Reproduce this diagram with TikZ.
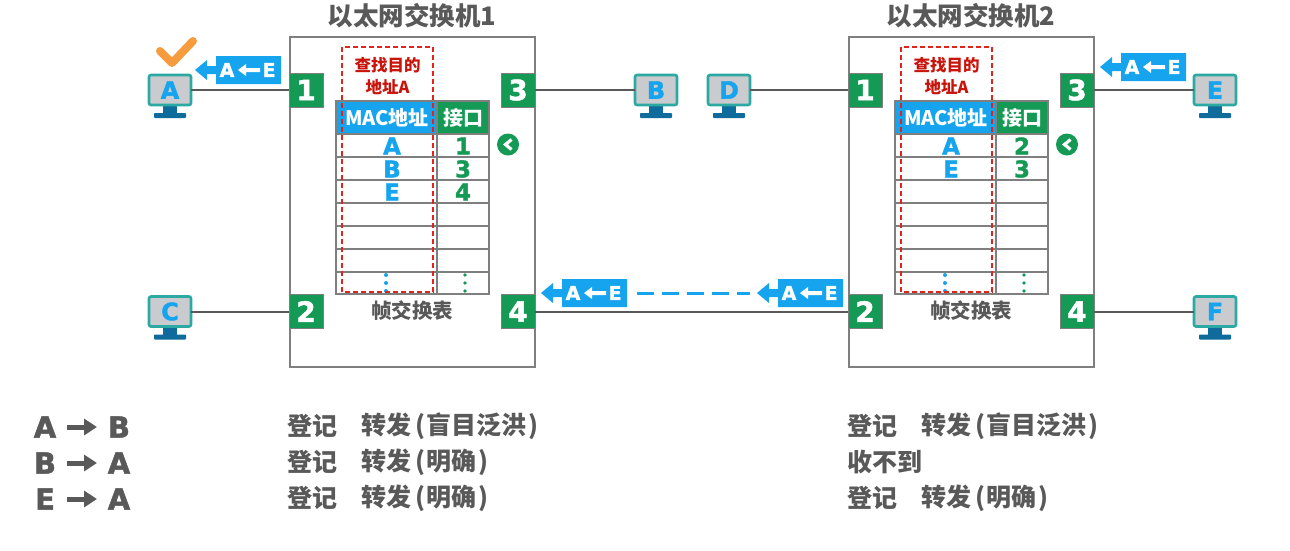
\documentclass[tikz,border=0pt]{standalone}
\usepackage{fontspec}
\usetikzlibrary{arrows.meta}
\setmainfont{Noto Sans CJK SC}
\newfontfamily\latinheavy[BoldFeatures={FakeBold=1.6}]{DejaVu Sans}
\definecolor{inkgray}{HTML}{595959}
\definecolor{rulegray}{HTML}{7F7F7F}
\definecolor{portgreen}{HTML}{149A55}
\definecolor{macblue}{HTML}{16A4EE}
\definecolor{alertred}{HTML}{C8140A}
\definecolor{dashred}{HTML}{E0241C}
\definecolor{screenteal}{HTML}{2BA9A2}
\definecolor{screengray}{HTML}{C9CBCE}
\definecolor{standblue}{HTML}{0F6B9B}
\definecolor{tickorange}{HTML}{F79B3F}
\newcommand{\pxfont}[1]{\fontsize{#1}{#1}\selectfont}
% Opening and closing brackets with a little air around them
\newcommand{\lb}{\kern4pt(\kern1.5pt}
\newcommand{\rb}{\kern1.5pt)}
\tikzset{
  x=1pt, y=-1pt,
  every node/.style={inner sep=0pt, outer sep=0pt},
  switchframe/.style={draw=rulegray, line width=1.2pt, fill=white},
  portbox/.style={draw=rulegray, line width=.8pt, fill=portgreen, text=white,
    minimum width=34pt, minimum height=34pt, font=\latinheavy\bfseries\pxfont{28}},
  monitor/.style={draw=screenteal, line width=2.6pt, fill=screengray, rounded corners=2pt,
    minimum width=42pt, minimum height=30pt, text=macblue, font=\latinheavy\bfseries\pxfont{24}},
  link/.style={draw=inkgray, line width=2pt},
  tablerule/.style={draw=rulegray, line width=1.1pt},
  macentry/.style={text=macblue, font=\latinheavy\bfseries\pxfont{23}},
  portentry/.style={text=portgreen, font=\latinheavy\bfseries\pxfont{23}},
  headcell/.style={text=white, font=\bfseries\pxfont{20}},
  lookupnote/.style={text=alertred, font=\bfseries\pxfont{16.5}},
  title/.style={text=inkgray, font=\bfseries\pxfont{25.5}},
  caption/.style={text=inkgray, font=\bfseries\pxfont{20.5}},
  logline/.style={text=inkgray, anchor=west, font=\bfseries\pxfont{25}},
  flowletter/.style={text=inkgray, font=\latinheavy\bfseries\pxfont{29}},
  flowarrow/.style={draw=inkgray, line width=5pt},
}
% A computer: screen node plus its stand
\newcommand{\computer}[3]{%
  \fill[standblue] (#2-7,#3+16) rectangle (#2+7,#3+23);
  \fill[standblue, rounded corners=.8pt] (#2-16,#3+23) rectangle (#2+16,#3+28);
  \node[monitor] (#1) at (#2,#3) {#1};
}
% A frame tag "A <- E" with its direction arrow on the left
\newcommand{\frametag}[3]{%
  \begin{scope}[shift={(#2,#3)}]
    \fill[macblue] (0,0) -- (12,-10) -- (12,-4) -- (21,-4) -- (21,-14) -- (86,-14)
      -- (86,14) -- (21,14) -- (21,4) -- (12,4) -- (12,10) -- cycle;
    \node[text=white, font=\latinheavy\bfseries\pxfont{19}] (#1a) at (32,0) {A};
    \node[text=white, font=\latinheavy\bfseries\pxfont{19}] (#1e) at (74,0) {E};
    \fill[white] (43,0) -- (51,-6) -- (51,-2) -- (65,-2) -- (65,2) -- (51,2) -- (51,6) -- cycle;
  \end{scope}
}
% One switch: frame, four ports, forwarding table
\newcommand{\switchunit}[6]{%
  \begin{scope}[xshift=#2pt, name prefix=#1-]
    \draw[switchframe] (290,37) rectangle (535,367);
    \fill[macblue] (336,101) rectangle (437,134);
    \fill[portgreen] (437,101) rectangle (489,134);
    \draw[tablerule] (336,101) rectangle (489,294);
    \foreach \rowy in {134,157,180,203,226,249,272} {\draw[tablerule] (336,\rowy) -- (489,\rowy);}
    \draw[tablerule] (437,101) -- (437,294);
    \node[headcell] (machead) at (387,118) {MAC地址};
    \node[headcell] (porthead) at (463.5,118) {接口};
    \node[macentry] (m1) at (392,146) {#3};
    \node[portentry] (n1) at (463,146) {#4};
    \node[macentry] (m2) at (392,169) {#5};
    \node[portentry] (n2) at (463,169) {#6};
    \foreach \doty in {275,283,291} {
      \fill[macblue] (386,\doty) circle (2);
      \fill[portgreen] (465,\doty) circle (1.8);
    }
    \draw[dashred, line width=1.4pt, dash pattern=on 5pt off 3pt] (342,47) rectangle (433,292);
    \node[lookupnote] (noteone) at (387.5,65) {查找目的};
    \node[lookupnote] (notetwo) at (387.5,87) {地址A};
    \node[caption] (tablename) at (412,311) {帧交换表};
    \node[portbox] (p1) at (306,90) {1};
    \node[portbox] (p2) at (306,311.5) {2};
    \node[portbox] (p3) at (518,90) {3};
    \node[portbox] (p4) at (518,311.5) {4};
    \node[circle, fill=portgreen, minimum size=22pt] (marker) at (508,144.5) {};
    \draw[white, line width=3.2pt] (511.5,139.5) -- (505.5,144.5) -- (511.5,149.5);
  \end{scope}
}
\begin{document}
\begin{tikzpicture}
\useasboundingbox (0,0) rectangle (1290,550);
\fill[white] (0,0) rectangle (1290,550);

\switchunit{swa}{0}{A}{1}{B}{3}
\node[macentry] (swa-m3) at (392,192) {E};
\node[portentry] (swa-n3) at (463,192) {4};
\switchunit{swb}{559}{A}{2}{E}{3}

\node[title] (titlea) at (412,16) {以太网交换机1};
\node[title] (titleb) at (971,16) {以太网交换机2};

\computer{A}{170}{90}
\computer{B}{656}{90}
\computer{C}{170}{311.5}
\computer{D}{729}{90}
\computer{E}{1215}{90}
\computer{F}{1215}{311.5}

\draw[link] (A) -- (swa-p1);
\draw[link] (C) -- (swa-p2);
\draw[link] (swa-p3) -- (B);
\draw[link] (swa-p4) -- (swb-p2);
\draw[link] (D) -- (swb-p1);
\draw[link] (swb-p3) -- (E);
\draw[link] (swb-p4) -- (F);

\draw[tickorange, line width=8pt, line cap=round, line join=round]
  (160,51) -- (172,63) -- (193,41);

\frametag{taga}{195}{70}
\frametag{tagb}{1100}{67}
\frametag{tagc}{541}{293}
\frametag{tagd}{757}{293}
\coordinate (dashstart) at (637,293);
\coordinate (dashend) at (750,293);
\draw[macblue, line width=3pt, dash pattern=on 17pt off 8pt] (dashstart) -- (dashend);

% Frame log beneath the switches
\foreach \rowname/\src/\dst/\rowy in {one/A/B/427, two/B/A/463, three/E/A/499} {
  \node[flowletter] (src\rowname) at (45,\rowy) {\src};
  \node[flowletter] (dst\rowname) at (119,\rowy) {\dst};
  \coordinate (from\rowname) at (67,\rowy);
  \coordinate (to\rowname) at (97,\rowy);
  \draw[flowarrow, -{Triangle[length=13pt,width=16pt]}] (from\rowname) -- (to\rowname);
}
\node[logline] (la1) at (287,426) {登记};
\node[logline] (la2) at (361,426) {转发\lb 盲目泛洪\rb};
\node[logline] (lb1) at (287,462) {登记};
\node[logline] (lb2) at (361,462) {转发\lb 明确\rb};
\node[logline] (lc1) at (287,498) {登记};
\node[logline] (lc2) at (361,498) {转发\lb 明确\rb};
\node[logline] (ra1) at (847,426) {登记};
\node[logline] (ra2) at (921,426) {转发\lb 盲目泛洪\rb};
\node[logline] (rb1) at (847,462) {收不到};
\node[logline] (rc1) at (847,498) {登记};
\node[logline] (rc2) at (921,498) {转发\lb 明确\rb};
\end{tikzpicture}
\end{document}
